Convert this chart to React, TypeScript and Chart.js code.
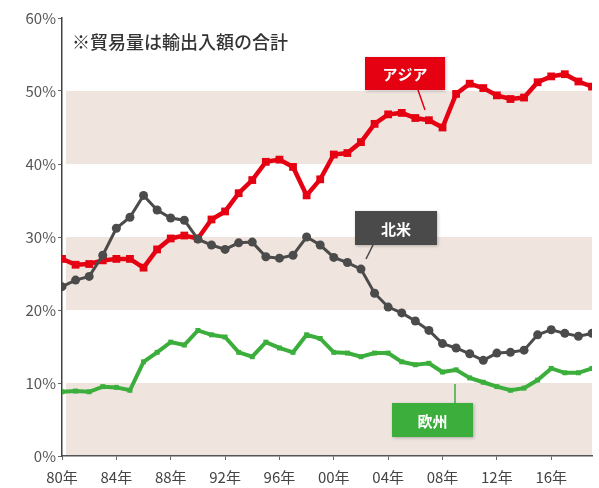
import React, { useEffect, useRef } from "react";
import { Chart, registerables } from "chart.js";

Chart.register(...registerables);

const years = [
  1980, 1981, 1982, 1983, 1984, 1985, 1986, 1987, 1988, 1989,
  1990, 1991, 1992, 1993, 1994, 1995, 1996, 1997, 1998, 1999,
  2000, 2001, 2002, 2003, 2004, 2005, 2006, 2007, 2008, 2009,
  2010, 2011, 2012, 2013, 2014, 2015, 2016, 2017, 2018, 2019,
];

const asia = [
  27, 26.2, 26.3, 26.8, 27, 27, 25.8, 28.3, 29.8, 30.2,
  29.8, 32.4, 33.5, 36, 37.8, 40.3, 40.6, 39.6, 35.7, 37.9,
  41.3, 41.5, 43, 45.5, 46.8, 47, 46.3, 46, 45, 49.6,
  51, 50.4, 49.4, 48.9, 49.1, 51.2, 52, 52.3, 51.3, 50.6,
];

const northAmerica = [
  23.2, 24.1, 24.6, 27.5, 31.2, 32.7, 35.7, 33.7, 32.6, 32.3,
  29.7, 28.9, 28.3, 29.2, 29.3, 27.3, 27.1, 27.5, 30, 28.9,
  27.2, 26.5, 25.6, 22.3, 20.4, 19.6, 18.5, 17.2, 15.4, 14.8,
  14, 13.1, 14.1, 14.2, 14.5, 16.6, 17.3, 16.8, 16.4, 16.8,
];

const europe = [
  8.8, 8.9, 8.8, 9.5, 9.4, 9.0, 12.9, 14.2, 15.6, 15.2,
  17.2, 16.6, 16.3, 14.2, 13.6, 15.6, 14.8, 14.2, 16.6, 16.1,
  14.2, 14.1, 13.6, 14.1, 14.1, 12.9, 12.5, 12.7, 11.5, 11.8,
  10.7, 10.1, 9.5, 9.0, 9.3, 10.4, 12, 11.4, 11.4, 12,
];

const tickYears = [1980, 1984, 1988, 1992, 1996, 2000, 2004, 2008, 2012, 2016];
const tickLabels = ["80年", "84年", "88年", "92年", "96年", "00年", "04年", "08年", "12年", "16年"];

const bandRanges = [
  [0, 10],
  [20, 30],
  [40, 50],
];

const note = "※貿易量は輸出入額の合計";

const FONT = "'Noto Sans CJK JP', 'Noto Sans', sans-serif";
const RED = "#e50012";
const GRAY = "#4b4b4b";
const GREEN = "#3cae3c";

const bandsPlugin = {
  id: "bands",
  beforeDraw(chart: any) {
    const { ctx, chartArea, scales } = chart;
    const y = scales.y;
    ctx.save();
    ctx.fillStyle = "#efe4de";
    for (const [a, b] of bandRanges) {
      const top = y.getPixelForValue(b);
      const bot = y.getPixelForValue(a);
      ctx.fillRect(chartArea.left + 4, top, chartArea.right - chartArea.left - 4, bot - top);
    }
    ctx.restore();
  },
};

const labelsPlugin = {
  id: "seriesLabels",
  afterDatasetsDraw(chart: any) {
    const { ctx } = chart;
    const items = [
      { text: "アジア", color: RED, box: [365, 57, 80, 33], tip: [418, 90], end: [425, 110] },
      { text: "北米", color: "#4a4a4a", box: [355, 211, 82, 34], tip: [373, 245], end: [366, 259] },
      { text: "欧州", color: GREEN, box: [392, 403, 81, 34], tip: [455, 403], end: [455, 384] },
    ];
    ctx.save();
    for (const it of items) {
      ctx.strokeStyle = it.color;
      ctx.lineWidth = 1.5;
      ctx.beginPath();
      ctx.moveTo(it.tip[0], it.tip[1]);
      ctx.lineTo(it.end[0], it.end[1]);
      ctx.stroke();
      ctx.shadowColor = "rgba(0,0,0,0.25)";
      ctx.shadowBlur = 3;
      ctx.shadowOffsetX = 1;
      ctx.shadowOffsetY = 1;
      ctx.fillStyle = it.color;
      ctx.fillRect(it.box[0], it.box[1], it.box[2], it.box[3]);
      ctx.shadowColor = "transparent";
      ctx.fillStyle = "#ffffff";
      ctx.font = `bold 15px ${FONT}`;
      ctx.textAlign = "center";
      ctx.textBaseline = "middle";
      ctx.fillText(it.text, it.box[0] + it.box[2] / 2, it.box[1] + it.box[3] / 2 + 1);
    }
    ctx.fillStyle = "#333333";
    ctx.font = `500 18px ${FONT}`;
    ctx.textAlign = "left";
    ctx.textBaseline = "middle";
    ctx.fillText(note, 72, 42);
    ctx.restore();
  },
};

export default function App() {
  const ref = useRef<HTMLCanvasElement | null>(null);

  useEffect(() => {
    document.body.style.margin = "0";
    const canvas = ref.current;
    if (!canvas) return;
    const toXY = (arr: number[]) => arr.map((v, i) => ({ x: years[i], y: v }));
    const chart = new Chart(canvas, {
      type: "line",
      data: {
        datasets: [
          {
            label: "欧州",
            data: toXY(europe),
            borderColor: GREEN,
            backgroundColor: GREEN,
            borderWidth: 4,
            pointStyle: "rect",
            pointRadius: 3.5,
            pointBorderWidth: 0,
            tension: 0,
          },
          {
            label: "北米",
            data: toXY(northAmerica),
            borderColor: GRAY,
            backgroundColor: GRAY,
            borderWidth: 3,
            pointStyle: "circle",
            pointRadius: 4.5,
            pointBorderWidth: 0,
            tension: 0,
          },
          {
            label: "アジア",
            data: toXY(asia),
            borderColor: RED,
            backgroundColor: RED,
            borderWidth: 4.5,
            pointStyle: "rect",
            pointRadius: 5.5,
            pointBorderWidth: 0,
            tension: 0,
          },
        ],
      },
      options: {
        animation: false,
        responsive: false,
        maintainAspectRatio: false,
        layout: { padding: { top: 18, right: 7, left: 0, bottom: 0 } },
        plugins: {
          legend: { display: false },
          tooltip: { enabled: false },
          title: { display: false },
        },
        scales: {
          x: {
            type: "linear",
            min: 1980,
            max: 2019,
            afterBuildTicks: (scale: any) => {
              scale.ticks = tickYears.map((v) => ({ value: v }));
            },
            afterFit: (scale: any) => {
              scale.height = 32;
            },
            ticks: {
              autoSkip: false,
              maxRotation: 0,
              padding: 8,
              color: "#444",
              font: { family: FONT, size: 15 },
              callback: (v: any) => {
                const i = tickYears.indexOf(Number(v));
                return i >= 0 ? tickLabels[i] : "";
              },
            },
            grid: { drawOnChartArea: false, drawTicks: true, tickLength: 4, color: "#666", lineWidth: 1 },
            border: { display: true, color: "#555", width: 1.5 },
          },
          y: {
            min: 0,
            max: 60,
            afterFit: (scale: any) => {
              scale.width = 62;
            },
            ticks: {
              stepSize: 10,
              padding: 2,
              color: "#555",
              font: { family: FONT, size: 15 },
              callback: (v: any) => `${v}%`,
            },
            grid: { drawOnChartArea: false, drawTicks: true, tickLength: 4, color: "#666", lineWidth: 1 },
            border: { display: true, color: "#444", width: 1.5 },
          },
        },
      },
      plugins: [bandsPlugin, labelsPlugin],
    } as any);
    return () => chart.destroy();
  }, []);

  return (
    <div style={{ position: "absolute", left: 0, top: 0, width: 599, height: 488, background: "#fff" }}>
      <canvas ref={ref} width={599} height={488} style={{ width: 599, height: 488 }} />
    </div>
  );
}
